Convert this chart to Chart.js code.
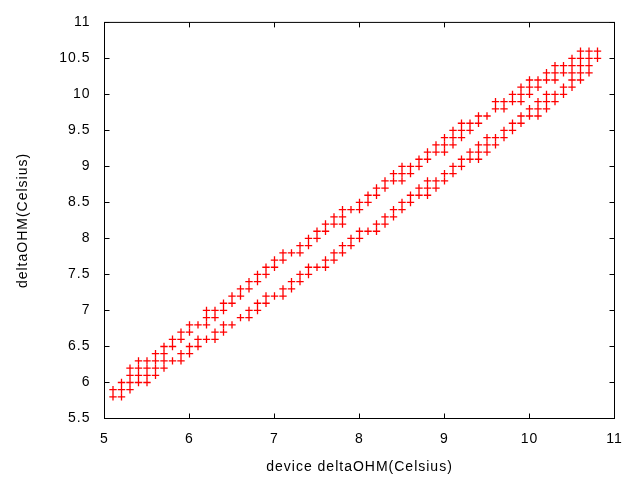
<!DOCTYPE html>
<html>
<head>
<meta charset="utf-8">
<script src="https://cdn.jsdelivr.net/npm/chart.js@4.4.1/dist/chart.umd.min.js"></script>
<style>
  html, body { margin: 0; padding: 0; background: #fff; }
</style>
</head>
<body>
<canvas id="chart" width="640" height="480"></canvas>
<script>
// device reading (x), one column per 0.1 step
const deviceTemp = [
  5.1, 5.2, 5.3, 5.4, 5.5, 5.6, 5.7, 5.8, 5.9, 6.0,
  6.1, 6.2, 6.3, 6.4, 6.5, 6.6, 6.7, 6.8, 6.9, 7.0,
  7.1, 7.2, 7.3, 7.4, 7.5, 7.6, 7.7, 7.8, 7.9, 8.0,
  8.1, 8.2, 8.3, 8.4, 8.5, 8.6, 8.7, 8.8, 8.9, 9.0,
  9.1, 9.2, 9.3, 9.4, 9.5, 9.6, 9.7, 9.8, 9.9, 10.0,
  10.1, 10.2, 10.3, 10.4, 10.5, 10.6, 10.7, 10.8
];

// deltaOHM readings seen at each device value
const refTemp = [
  [5.9, 5.8], [6.0, 5.9, 5.8], [6.2, 6.1, 6.0, 5.9], [6.3, 6.2, 6.1, 6.0], [6.3, 6.2, 6.1, 6.0],
  [6.4, 6.3, 6.2, 6.1], [6.5, 6.4, 6.3, 6.2], [6.6, 6.5, 6.3], [6.7, 6.6, 6.4, 6.3], [6.8, 6.7, 6.5, 6.4],
  [6.8, 6.6, 6.5], [7.0, 6.9, 6.8, 6.6], [7.0, 6.9, 6.7, 6.6], [7.1, 7.0, 6.8, 6.7], [7.2, 7.1, 6.8],
  [7.3, 7.2, 6.9], [7.4, 7.3, 7.0, 6.9], [7.5, 7.4, 7.1, 7.0], [7.6, 7.5, 7.2, 7.1], [7.7, 7.6, 7.2],
  [7.8, 7.7, 7.3, 7.2], [7.8, 7.4, 7.3], [7.9, 7.8, 7.5, 7.4], [8.0, 7.9, 7.6, 7.5], [8.1, 8.0, 7.6],
  [8.2, 8.1, 7.7, 7.6], [8.3, 8.2, 7.8, 7.7], [8.4, 8.3, 8.2, 7.9, 7.8], [8.4, 8.0, 7.9], [8.5, 8.4, 8.1, 8.0],
  [8.6, 8.5, 8.1], [8.7, 8.6, 8.2, 8.1], [8.8, 8.7, 8.3, 8.2], [8.9, 8.8, 8.4, 8.3], [9.0, 8.9, 8.8, 8.5, 8.4],
  [9.0, 8.9, 8.6, 8.5], [9.1, 9.0, 8.7, 8.6], [9.2, 9.1, 8.8, 8.7, 8.6], [9.3, 9.2, 8.8, 8.7], [9.4, 9.3, 9.2, 8.9, 8.8],
  [9.5, 9.4, 9.3, 9.0, 8.9], [9.6, 9.5, 9.4, 9.1, 9.0], [9.6, 9.5, 9.2, 9.1], [9.7, 9.6, 9.3, 9.2, 9.1], [9.7, 9.4, 9.3, 9.2],
  [9.9, 9.8, 9.4, 9.3], [9.9, 9.8, 9.5, 9.4], [10.0, 9.9, 9.6, 9.5], [10.1, 10.0, 9.9, 9.7, 9.6], [10.2, 10.1, 10.0, 9.8, 9.7],
  [10.2, 10.1, 9.9, 9.8, 9.7], [10.3, 10.2, 10.0, 9.9, 9.8], [10.4, 10.3, 10.2, 10.0, 9.9], [10.4, 10.3, 10.1, 10.0], [10.5, 10.4, 10.3, 10.2, 10.1],
  [10.6, 10.5, 10.4, 10.3, 10.2], [10.6, 10.5, 10.4, 10.3], [10.6, 10.5]
];

const xTicks = [5, 6, 7, 8, 9, 10, 11];
const yTicks = [5.5, 6, 6.5, 7, 7.5, 8, 8.5, 9, 9.5, 10, 10.5, 11];

const points = [];
deviceTemp.forEach((x, i) => {
    refTemp[i].forEach(y => points.push({ x: x, y: y }));
});

Chart.defaults.font.family = '"Liberation Sans", Arial, sans-serif';
Chart.defaults.font.size = 14;
Chart.defaults.color = "#000";

// gnuplot style box with inward ticks on all four sides
const frame = {
    id: "frame",
    beforeLayout(chart) {
        chart.ctx.letterSpacing = "1px";
    },
    beforeDraw(chart) {
        chart.ctx.letterSpacing = "1px";
    },
    beforeDatasetsDraw(chart) {
        const { ctx, chartArea: a, scales } = chart;
        ctx.save();
        ctx.strokeStyle = "#000";
        ctx.lineWidth = 1;
        ctx.strokeRect(a.left, a.top, a.right - a.left, a.bottom - a.top);
        ctx.beginPath();
        xTicks.forEach(v => {
            const px = Math.round(scales.x.getPixelForValue(v) - 0.5) + 0.5;
            ctx.moveTo(px, a.bottom); ctx.lineTo(px, a.bottom - 5);
            ctx.moveTo(px, a.top); ctx.lineTo(px, a.top + 5);
        });
        yTicks.forEach(v => {
            const py = Math.round(scales.y.getPixelForValue(v) - 0.5) + 0.5;
            ctx.moveTo(a.left, py); ctx.lineTo(a.left + 5, py);
            ctx.moveTo(a.right, py); ctx.lineTo(a.right - 5, py);
        });
        ctx.stroke();
        ctx.restore();
    }
};

new Chart(document.getElementById("chart"), {
    type: "scatter",
    data: {
        datasets: [{
            data: points,
            pointStyle: "cross",
            pointRadius: 3.7,
            pointHoverRadius: 3.7,
            borderColor: "#ff0000",
            backgroundColor: "#ff0000",
            borderWidth: 1.3
        }]
    },
    options: {
        responsive: false,
        animation: false,
        layout: { padding: { top: 20.5, right: 25.5, left: 0, bottom: 0 } },
        plugins: { legend: { display: false }, tooltip: { enabled: false } },
        scales: {
            x: {
                type: "linear",
                min: 5,
                max: 11,
                afterBuildTicks: s => { s.ticks = xTicks.map(v => ({ value: v })); },
                afterFit: s => { s.height = 61.5; },
                grid: { display: false, drawTicks: false },
                border: { display: false },
                ticks: { padding: 12, maxRotation: 0, callback: v => String(v) },
                title: { display: true, text: "device deltaOHM(Celsius)", padding: { top: 0, bottom: 4 } }
            },
            y: {
                type: "linear",
                min: 5.5,
                max: 11,
                afterBuildTicks: s => { s.ticks = yTicks.map(v => ({ value: v })); },
                afterFit: s => { s.width = 104.5; },
                grid: { display: false, drawTicks: false },
                border: { display: false },
                ticks: { padding: 14, callback: v => String(v) },
                title: { display: true, text: "deltaOHM(Celsius)", padding: { top: 15, bottom: 0 } }
            }
        }
    },
    plugins: [frame]
});
</script>
</body>
</html>
